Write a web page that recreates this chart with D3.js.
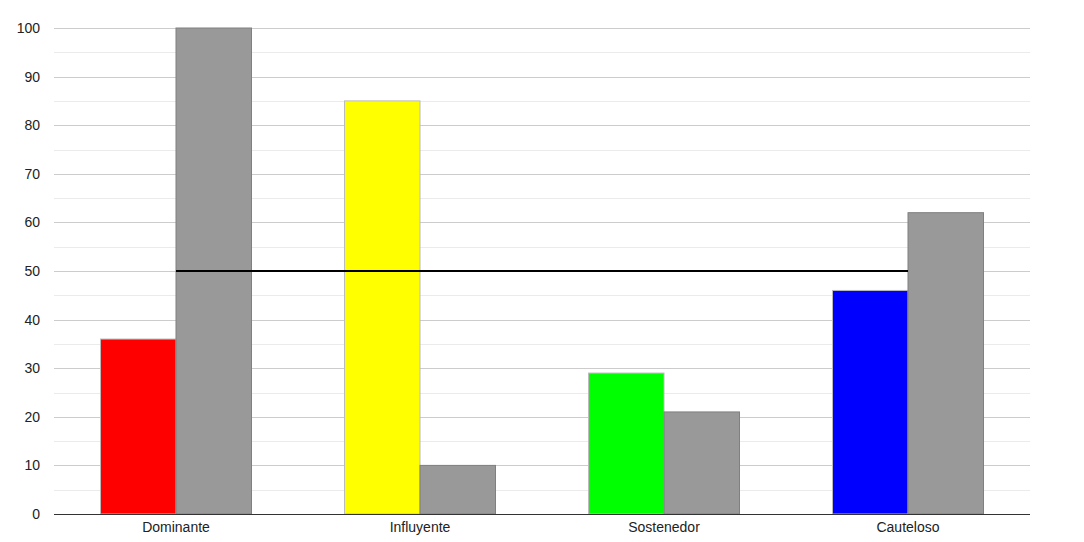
<!DOCTYPE html>
<html><head><meta charset="utf-8">
<script src="https://cdn.jsdelivr.net/npm/d3@7"></script>
<style>body{margin:0;background:#fff}svg{display:block}text{font-family:"Liberation Sans",Arial,sans-serif}</style>
</head><body><svg id="c" width="1084" height="542"></svg>
<script>
const categories = ["Dominante","Influyente","Sostenedor","Cauteloso"];
const primaryValues = [36, 85, 29, 46];
const secondaryValues = [100, 10, 21, 62];
const primaryColors = ["#ff0000","#ffff00","#00ff00","#0000ff"];
const secondaryColor = "#999999";
const referenceValues = [50, 50, 50, 50];
const yTicks = [0,10,20,30,40,50,60,70,80,90,100];
const yMinorTicks = [5,15,25,35,45,55,65,75,85,95];

const svg = d3.select("#c");
const m = {l:54, r:1030, t:28, b:514};
const x = d3.scaleBand().domain(categories).range([m.l, m.r]);
const y = d3.scaleLinear().domain([0,100]).range([m.b, m.t]);
const bw = 75.5;

svg.append("g").selectAll("line").data(yMinorTicks).join("line")
  .attr("x1", m.l).attr("x2", m.r).attr("y1", d=>Math.round(y(d))+0.5).attr("y2", d=>Math.round(y(d))+0.5)
  .attr("stroke", "#ebebeb").attr("stroke-width", 1);
svg.append("g").selectAll("line").data(yTicks.filter(d=>d>0)).join("line")
  .attr("x1", m.l).attr("x2", m.r).attr("y1", d=>Math.round(y(d))+0.5).attr("y2", d=>Math.round(y(d))+0.5)
  .attr("stroke", "#cccccc").attr("stroke-width", 1);

svg.append("g").selectAll("text").data(yTicks).join("text")
  .attr("x", 40).attr("y", d=>y(d)).attr("dy","0.35em").attr("text-anchor","end")
  .attr("font-size", 14).attr("fill","#222").text(d=>d);

const center = c => x(c) + x.bandwidth()/2;

svg.append("g").selectAll("rect").data(categories).join("rect")
  .attr("x", c=>center(c)-bw).attr("width", bw)
  .attr("y", (c,i)=>y(primaryValues[i])).attr("height", (c,i)=>y(0)-y(primaryValues[i]))
  .attr("fill", (c,i)=>primaryColors[i]).attr("stroke","#bbbbbb").attr("stroke-width",1);
svg.append("g").selectAll("rect").data(categories).join("rect")
  .attr("x", c=>center(c)).attr("width", bw)
  .attr("y", (c,i)=>y(secondaryValues[i])).attr("height", (c,i)=>y(0)-y(secondaryValues[i]))
  .attr("fill", secondaryColor).attr("stroke","#808080").attr("stroke-width",1);

svg.append("line").attr("x1", m.l).attr("x2", m.r).attr("y1", m.b+0.5).attr("y2", m.b+0.5)
  .attr("stroke","#333").attr("stroke-width",1);

const line = d3.line().x((d,i)=>center(categories[i])).y(d=>y(d));
svg.append("path").datum(referenceValues).attr("d", line)
  .attr("fill","none").attr("stroke","#000").attr("stroke-width",2);

svg.append("g").selectAll("text").data(categories).join("text")
  .attr("x", c=>center(c)).attr("y", 532).attr("text-anchor","middle")
  .attr("font-size", 14).attr("fill","#222").text(c=>c);
</script></body></html>
